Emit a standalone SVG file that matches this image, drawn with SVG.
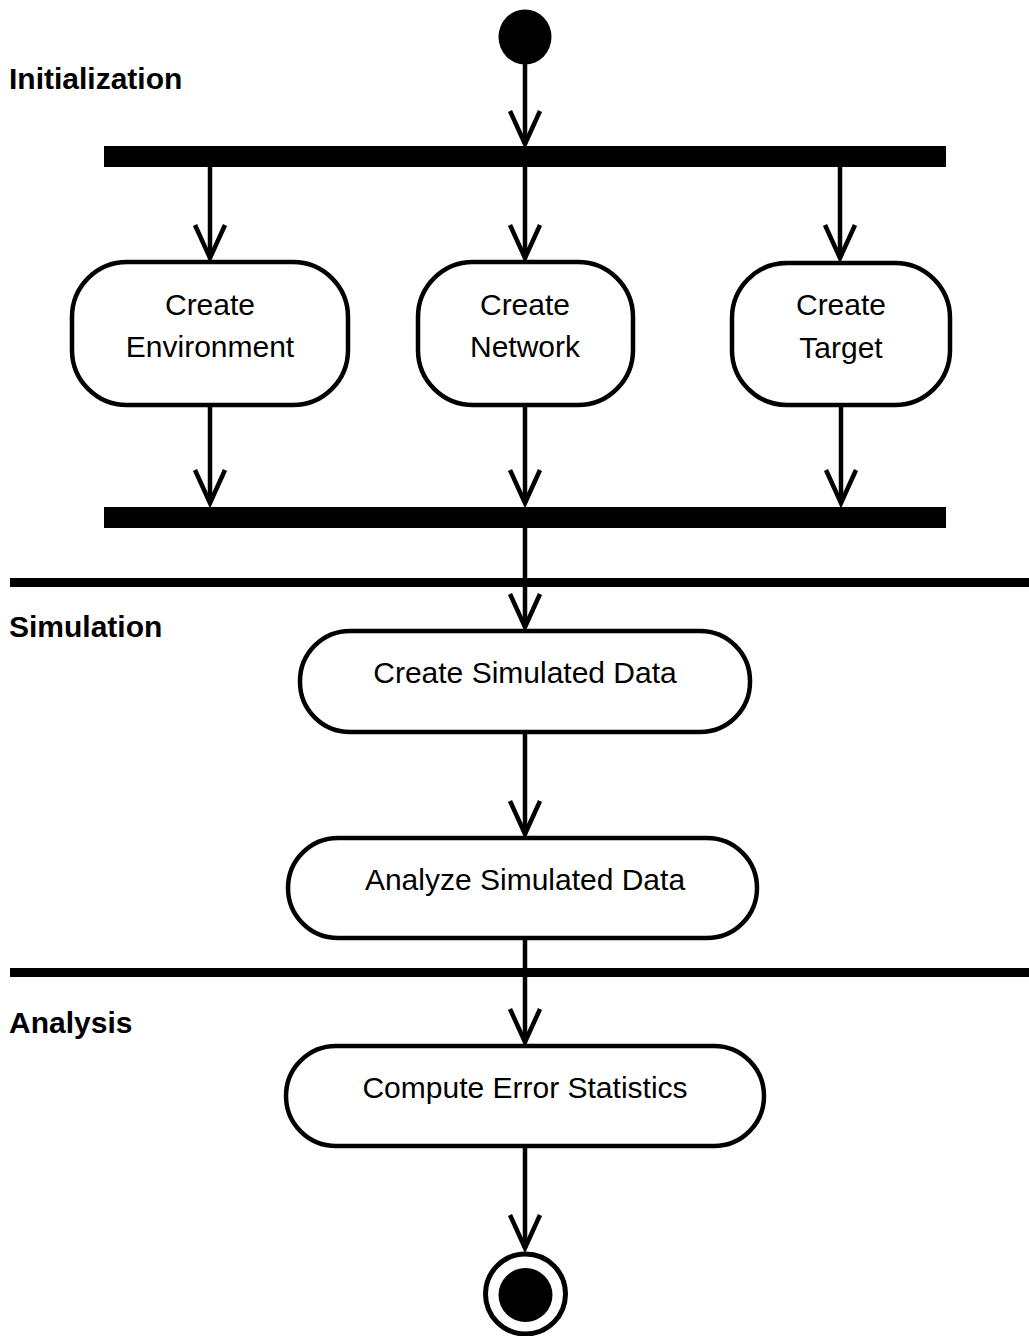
<svg xmlns="http://www.w3.org/2000/svg" width="1029" height="1336" viewBox="0 0 1029 1336">
<style>
.node{fill:#fff;stroke:#000;stroke-width:4.5}
.lbl{font-family:"Liberation Sans",Arial,sans-serif;font-size:30px;fill:#000;text-anchor:middle}
.lane{font-family:"Liberation Sans",Arial,sans-serif;font-size:30px;font-weight:bold;fill:#000}
.edge{stroke:#000;stroke-width:4.5;fill:none;marker-end:url(#arr)}
.sep{stroke:#000;stroke-width:9}
</style>
<defs>
<marker id="arr" markerUnits="userSpaceOnUse" markerWidth="44" markerHeight="44" viewBox="-38 -22 44 44" refX="0" refY="0" orient="auto" overflow="visible">
<path d="M -33 -15 L 0 0 L -33 15" fill="none" stroke="#000" stroke-width="4.5"/>
</marker>
</defs>
<rect width="1029" height="1336" fill="#fff"/>
<g id="lanes">
<line class="sep" x1="10" y1="582.5" x2="1029" y2="582.5"/>
<line class="sep" x1="10" y1="972.5" x2="1029" y2="972.5"/>
<text class="lane" x="9" y="89">Initialization</text>
<text class="lane" x="9" y="637">Simulation</text>
<text class="lane" x="9" y="1033">Analysis</text>
</g>
<g id="edges">
<line class="edge" x1="525" y1="63" x2="525" y2="144"/>
<line class="edge" x1="210" y1="167" x2="210" y2="258"/>
<line class="edge" x1="525" y1="167" x2="525" y2="258"/>
<line class="edge" x1="840" y1="167" x2="840" y2="258"/>
<line class="edge" x1="210" y1="405" x2="210" y2="503"/>
<line class="edge" x1="525" y1="405" x2="525" y2="503"/>
<line class="edge" x1="841" y1="405" x2="841" y2="503"/>
<line class="edge" x1="525" y1="528" x2="525" y2="627"/>
<line class="edge" x1="525" y1="732" x2="525" y2="834"/>
<line class="edge" x1="525" y1="938" x2="525" y2="1042"/>
<line class="edge" x1="525" y1="1146" x2="525" y2="1248"/>
</g>
<g id="start"><ellipse cx="525" cy="37" rx="26.5" ry="27.5" fill="#000"/></g>
<g id="fork"><rect x="104" y="146" width="842" height="21" fill="#000"/></g>
<g id="n-env">
<rect class="node" x="72" y="262" width="276" height="143" rx="55" ry="55"/>
<text class="lbl" x="210" y="315">Create</text>
<text class="lbl" x="210" y="357">Environment</text>
</g>
<g id="n-net">
<rect class="node" x="418" y="262" width="215" height="143" rx="55" ry="55"/>
<text class="lbl" x="525" y="315">Create</text>
<text class="lbl" x="525" y="357">Network</text>
</g>
<g id="n-target">
<rect class="node" x="732" y="263" width="218" height="142" rx="55" ry="55"/>
<text class="lbl" x="841" y="315">Create</text>
<text class="lbl" x="841" y="358">Target</text>
</g>
<g id="join"><rect x="104" y="507" width="842" height="21" fill="#000"/></g>
<g id="n-csd">
<rect class="node" x="300" y="631" width="450" height="101" rx="50" ry="50"/>
<text class="lbl" x="525" y="683">Create Simulated Data</text>
</g>
<g id="n-asd">
<rect class="node" x="288" y="838" width="469" height="100" rx="50" ry="50"/>
<text class="lbl" x="525" y="890">Analyze Simulated Data</text>
</g>
<g id="n-ces">
<rect class="node" x="286" y="1046" width="478" height="100" rx="50" ry="50"/>
<text class="lbl" x="525" y="1098">Compute Error Statistics</text>
</g>
<g id="end">
<circle cx="525.5" cy="1294" r="40" fill="#fff" stroke="#000" stroke-width="5"/>
<circle cx="525.5" cy="1295" r="27" fill="#000"/>
</g>
</svg>
